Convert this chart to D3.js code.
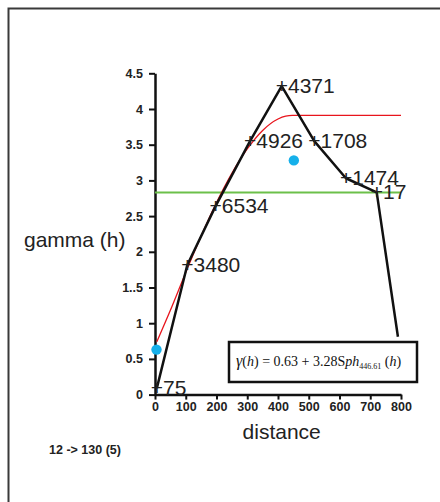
<!DOCTYPE html>
<html>
<head>
<meta charset="utf-8">
<script src="https://cdn.jsdelivr.net/npm/d3@7"></script>
<style>
  html, body { margin: 0; padding: 0; background: #fff; overflow: hidden; }
  svg { display: block; overflow: hidden; }
</style>
</head>
<body>
<svg id="chart" width="440" height="502"></svg>
<script>
// ---- data ----
const lagDistance = [6, 105, 197, 309, 412, 518, 621, 721, 790];
const lagGamma    = [0.09, 1.815, 2.64, 3.55, 4.32, 3.55, 3.03, 2.833, 0.81];
const lagPairs    = ["75", "3480", "6534", "4926", "4371", "1708", "1474", "17", ""];

const modelDistance = [6, 50, 100, 150, 200, 250, 300, 350, 400, 425, 446.61, 800];
const modelGamma    = [0.74, 1.18, 1.71, 2.22, 2.69, 3.10, 3.44, 3.70, 3.86, 3.90, 3.91, 3.91];

const paramDistance = [0, 446.61];
const paramGamma    = [0.63, 3.28];

const sampleVariance = 2.83;

const xTickValues = [0, 100, 200, 300, 400, 500, 600, 700, 800];
const xTickLabels = ["0", "100", "200", "300", "400", "500", "600", "700", "800"];
const yTickValues = [0, 0.5, 1, 1.5, 2, 2.5, 3, 3.5, 4, 4.5];
const yTickLabels = ["0", "0.5", "1", "1..5", "2", "2.5", "3", "3.5", "4", "4.5"];

// ---- drawing ----
const svg = d3.select("#chart");
const x = d3.scaleLinear().domain([0, 800]).range([155, 401]);
const y = d3.scaleLinear().domain([0, 4.5]).range([394.6, 73.3]);

// outer frame: only its top and left edges fall inside the window
svg.append("path")
  .attr("d", "M8.5,600 L8.5,8.5 L600,8.5")
  .attr("fill", "none").attr("stroke", "#3a3a3a").attr("stroke-width", 2);

const sans = "Arial, 'Liberation Sans', sans-serif";

// axes
const yAxis = d3.axisLeft(y).tickValues(yTickValues)
  .tickFormat((d, i) => yTickLabels[i]).tickSize(6).tickSizeOuter(0).tickPadding(6);
const xAxis = d3.axisBottom(x).tickValues(xTickValues)
  .tickFormat((d, i) => xTickLabels[i]).tickSize(5).tickSizeOuter(0).tickPadding(3);

const gy = svg.append("g").attr("transform", `translate(${x(0)},0)`).call(yAxis);
const gx = svg.append("g").attr("transform", `translate(0,${y(0)})`).call(xAxis);
[gx, gy].forEach(g => {
  g.select(".domain").attr("stroke", "#111").attr("stroke-width", 2.5);
  g.selectAll(".tick line").attr("stroke", "#111").attr("stroke-width", 2);
  g.selectAll(".tick text").attr("fill", "#222")
    .style("font-family", sans).style("font-size", "12.5px").style("font-weight", "bold");
});

// sample variance line
svg.append("line")
  .attr("x1", x(0)).attr("x2", x(800))
  .attr("y1", y(sampleVariance)).attr("y2", y(sampleVariance))
  .attr("stroke", "#6cc04a").attr("stroke-width", 2);

// model curve
const modelPts = modelDistance.map((d, i) => [d, modelGamma[i]]);
svg.append("path")
  .datum(modelPts)
  .attr("d", d3.line().x(d => x(d[0])).y(d => y(d[1])).curve(d3.curveMonotoneX))
  .attr("fill", "none").attr("stroke", "#e8141c").attr("stroke-width", 1.3);

// empirical variogram
const lagPts = lagDistance.map((d, i) => [d, lagGamma[i], lagPairs[i]]);
svg.append("path")
  .datum(lagPts)
  .attr("d", d3.line().x(d => x(d[0])).y(d => y(d[1])))
  .attr("fill", "none").attr("stroke", "#111").attr("stroke-width", 2.5)
  .attr("stroke-linejoin", "round");

// labels with + markers
svg.append("g").selectAll("text")
  .data(lagPts.filter(d => d[2] !== ""))
  .join("text")
  .attr("x", d => x(d[0]) - 6)
  .attr("y", d => y(d[1]) + 7)
  .attr("fill", "#222")
  .style("font-family", sans).style("font-size", "21px")
  .text(d => "+" + d[2]);

// nugget / sill points
svg.append("g").selectAll("circle")
  .data(paramDistance.map((d, i) => [d, paramGamma[i]]))
  .join("circle")
  .attr("cx", d => x(d[0]) + 1.5).attr("cy", d => y(d[1]))
  .attr("r", 5.2).attr("fill", "#16b0ea");

// equation box
svg.append("rect")
  .attr("x", 229).attr("y", 342).attr("width", 188).attr("height", 40)
  .attr("fill", "#fff").attr("stroke", "#111").attr("stroke-width", 2.5);

const eq = svg.append("text")
  .attr("x", 236).attr("y", 366)
  .attr("fill", "#111")
  .style("font-family", "'Liberation Serif', 'Times New Roman', serif")
  .style("font-size", "14px");
eq.append("tspan").style("font-style", "italic").style("font-size", "16px").text("γ");
eq.append("tspan").text("(");
eq.append("tspan").style("font-style", "italic").text("h");
eq.append("tspan").text(") = 0.63 + 3.28S");
eq.append("tspan").style("font-style", "italic").text("ph");
eq.append("tspan").attr("dy", 3).style("font-size", "8px").text("446.61");
eq.append("tspan").attr("dy", -3).text(" (");
eq.append("tspan").style("font-style", "italic").text("h");
eq.append("tspan").text(")");

// axis titles
svg.append("text")
  .attr("x", 24).attr("y", 246.5)
  .attr("fill", "#222")
  .style("font-family", sans).style("font-size", "21px")
  .text("gamma (h)");

svg.append("text")
  .attr("x", 281.7).attr("y", 439)
  .attr("text-anchor", "middle")
  .attr("fill", "#222")
  .style("font-family", sans).style("font-size", "21px")
  .text("distance");

// footer
svg.append("text")
  .attr("x", 49).attr("y", 454)
  .attr("fill", "#222")
  .style("font-family", sans).style("font-size", "12.5px").style("font-weight", "bold")
  .text("12 -> 130 (5)");
</script>
</body>
</html>
